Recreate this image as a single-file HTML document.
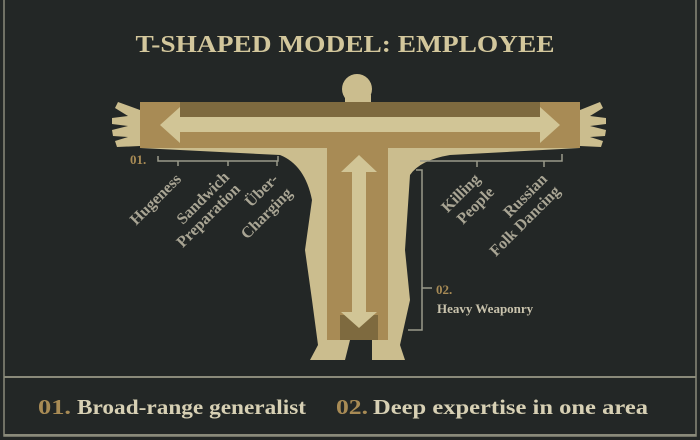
<!DOCTYPE html>
<html><head><style>
html,body{margin:0;padding:0;background:#232726;}
svg{display:block;}
text{font-family:"Liberation Serif",serif;font-weight:bold;}
</style></head><body>
<svg width="700" height="440" viewBox="0 0 700 440" xmlns="http://www.w3.org/2000/svg">
<rect width="700" height="440" fill="#232726"/>
<rect x="4" y="-2" width="692" height="438" fill="none" stroke="#8a8a7a" stroke-width="1.5"/>
<line x1="4" y1="377" x2="696" y2="377" stroke="#8a8a7a" stroke-width="2"/>
<line x1="4" y1="435" x2="696" y2="435" stroke="#8a8a7a" stroke-width="2"/>
<text x="345" y="52" text-anchor="middle" font-size="24" fill="#d3c79c" textLength="419" lengthAdjust="spacingAndGlyphs">T-SHAPED MODEL: EMPLOYEE</text>

<g fill="#cbbd8e">
<circle cx="357" cy="89" r="15"/>
<rect x="345" y="95" width="26" height="20"/>
<path d="M140 103 L300 108 Q330 110 340 112 L375 112 Q390 110 420 108 L580 103 L580 148 L450 155 Q420 160 410 175 L405 250 L410 300 L400 345 L405 360 L372 360 L372 340 L350 340 L345 360 L310 360 L318 345 L312 300 L305 250 L312 200 Q305 165 280 155 L140 148 Z"/>
<path d="M140 110 L118 102 L115 108 L128 116 L112 118 L112 124 L128 126 L112 130 L113 136 L128 137 L115 141 L117 147 L140 146 Z"/>
<path d="M580 110 L600 102 L603 108 L590 116 L606 118 L606 124 L590 126 L606 130 L605 136 L590 137 L603 141 L601 147 L580 146 Z"/>
</g>
<rect x="140" y="102" width="440" height="46" fill="#a88b55"/>
<rect x="180" y="102" width="360" height="15" fill="#7e6a3f"/>
<rect x="327" y="148" width="61" height="192" fill="#a88b55"/>
<rect x="340" y="315" width="38" height="25" fill="#7e6a3f"/>
<polygon points="160,125 180,107 180,117 540,117 540,107 560,125 540,143 540,132 180,132 180,143" fill="#d1c596"/>
<polygon points="359,155 377,172 366,172 366,312 377,312 359,328 341,312 352,312 352,172 341,172" fill="#d1c596"/>

<g stroke="#9a9a8a" stroke-width="1.5" fill="none">
<path d="M158 156 L158 161 L278 161 L278 156 M178 161 L178 166 M228 161 L228 166 M277 161 L277 166"/>
<path d="M420 161 L562 161 L562 154 M477 161 L477 167 M544 161 L544 167"/>
<path d="M416 170 L422 170 L422 330 L408 330 M422 288 L432 288"/>
</g>
<text x="130" y="164" font-size="13" fill="#a88b55">01.</text>
<g font-size="16" fill="#a9a594" text-anchor="end">
<text transform="translate(182,180) rotate(-45)">Hugeness</text>
<text transform="translate(230,178) rotate(-45)">Sandwich</text>
<text transform="translate(241,190) rotate(-45)">Preparation</text>
<text transform="translate(279,180) rotate(-45)">Über-</text>
<text transform="translate(293,194) rotate(-45)">Charging</text>
<text transform="translate(481,180) rotate(-45)">Killing</text>
<text transform="translate(495,193) rotate(-45)">People</text>
<text transform="translate(548,180) rotate(-45)">Russian</text>
<text transform="translate(561,192) rotate(-45)">Folk Dancing</text>
</g>
<text x="436" y="294" font-size="13" fill="#a88b55">02.</text>
<text x="437" y="313" font-size="13" fill="#c9c3ad">Heavy Weaponry</text>

<text x="38" y="414" font-size="21" font-weight="normal" fill="#a88b55" textLength="33" lengthAdjust="spacingAndGlyphs">01.</text>
<text x="77" y="414" font-size="21" fill="#d7d0b4" textLength="229" lengthAdjust="spacingAndGlyphs">Broad-range generalist</text>
<text x="336" y="414" font-size="21" font-weight="normal" fill="#a88b55" textLength="32" lengthAdjust="spacingAndGlyphs">02.</text>
<text x="373" y="414" font-size="21" fill="#d7d0b4" textLength="275" lengthAdjust="spacingAndGlyphs">Deep expertise in one area</text>
</svg>
</body></html>
